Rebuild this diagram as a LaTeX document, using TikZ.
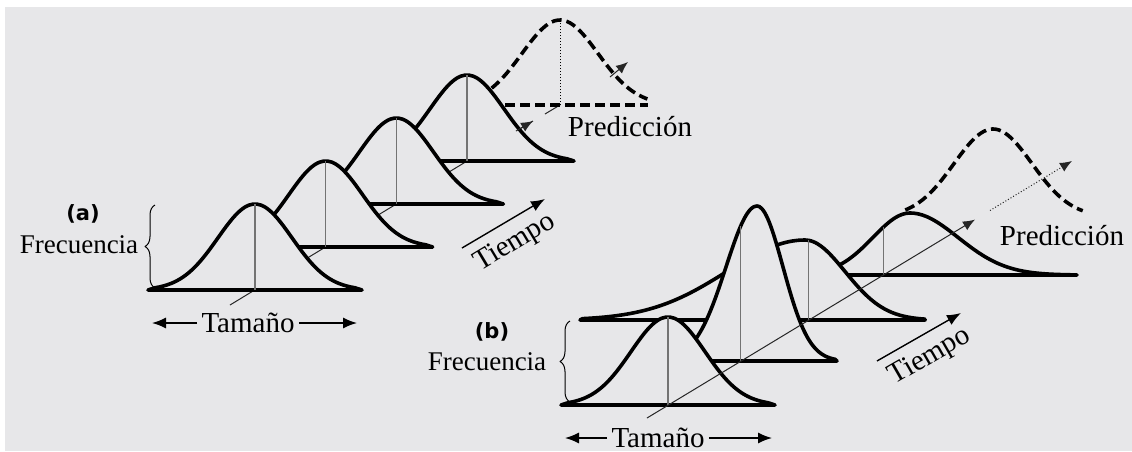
\documentclass[tikz,border=0pt]{standalone}
\usepackage{fontspec}
\setmainfont{Liberation Serif}
\newfontfamily\etiqueta{DejaVu Sans}
\usetikzlibrary{arrows.meta,decorations.pathreplacing}
\definecolor{fondo}{RGB}{231,231,233}

\begin{document}
\begin{tikzpicture}[x=0.5pt,y=-0.5pt,line join=round]
\tikzstyle{campana} = [line width=1.8pt,fill=fondo]
\tikzstyle{media} = [line width=0.6pt,black!55]
\tikzstyle{eje} = [line width=0.5pt,black!85]
\tikzstyle{punta} = [eje,-{Latex[length=6pt,width=5pt]}]
\tikzstyle{flecha} = [line width=0.7pt,-{Latex[length=7pt,width=5.5pt]}]
\tikzstyle{pred} = [line width=1.8pt,dash pattern=on 5pt off 2.5pt]
\tikzstyle{texto} = [font=\fontsize{14.5}{17}\selectfont,inner sep=2pt]
\tikzstyle{frec} = [font=\fontsize{13.5}{16}\selectfont,inner sep=2pt]
\tikzstyle{letra} = [font=\etiqueta\bfseries\fontsize{10.5}{12}\selectfont]
\tikzstyle{llave} = [line width=0.5pt,decorate,decoration={brace,amplitude=5pt}]
%marco gris
\useasboundingbox (0,0) rectangle (1132,451);
\fill[white] (0,0) rectangle (1132,451);
\fill[fondo] (5,7) rectangle (1132,451);
%================ (a) ================
%centros de las bases
\coordinate (a0) at (230,305);
\coordinate (a1) at (255,290);
\coordinate (a2) at (325.7,247);
\coordinate (a3) at (396.4,204);
\coordinate (a4) at (467,161);
\coordinate (as) at (516,131);
\coordinate (at) at (533,121);
\coordinate (aq) at (545,114);
\coordinate (ap) at (560,105);
\coordinate (ad1) at (610,77);
\coordinate (ad2) at (628,62);
%eje del tiempo (queda detrás)
\draw[eje] (a0)--(at);
\draw[eje] (aq)--(ap);
%predicción punteada
\draw[pred] plot[domain=-2.5:2.3,samples=60,smooth] ({560+38*\x},{105-85*exp(-0.5*(\x)*(\x))});
\draw[pred] (490,105)--(648,105);
\draw[densely dotted,line width=0.5pt] (ap)--(560,20);
%campanas, de atrás hacia adelante
\filldraw[campana] (360,161)--plot[domain=-2.7:2.7,samples=50,smooth] ({467+37*\x},{161-86*exp(-0.5*(\x)*(\x))})--(574,161)--cycle;
\draw[media] (a4)--(467,75);
\filldraw[campana] (289.4,204)--plot[domain=-2.7:2.7,samples=50,smooth] ({396.4+37*\x},{204-86*exp(-0.5*(\x)*(\x))})--(503.4,204)--cycle;
\draw[media] (a3)--(396.4,118);
\filldraw[campana] (218.7,247)--plot[domain=-2.7:2.7,samples=50,smooth] ({325.7+37*\x},{247-86*exp(-0.5*(\x)*(\x))})--(432.7,247)--cycle;
\draw[media] (a2)--(325.7,161);
\filldraw[campana] (148,290)--plot[domain=-2.7:2.7,samples=50,smooth] ({255+37*\x},{290-86*exp(-0.5*(\x)*(\x))})--(362,290)--cycle;
\draw[media] (a1)--(255,204);
%flechas cortas
\draw[punta] (as)--(at);
\draw[punta] (ad1)--(ad2);
%textos
\draw(83,214)node[letra](la){(a)};
\draw(79,245)node[frec](fa){Frecuencia};
\draw[llave] (155,288)--(155,205);
\draw(248,323)node[texto](tama){Tamaño};
\coordinate (tai) at (152,323);
\coordinate (tad) at (357,323);
\draw[flecha] (tama)--(tai);
\draw[flecha] (tama)--(tad);
\coordinate (ti1) at (462,248);
\coordinate (ti2) at (545,199);
\draw[flecha] (ti1)--(ti2);
\draw(515,243)node[texto,rotate=31](tia){Tiempo};
\draw(630,127)node[texto](preda){Predicción};
%================ (b) ================
\coordinate (b0) at (647,418);
\coordinate (b1) at (668,405);
\coordinate (b2) at (740.8,361);
\coordinate (b3) at (808.7,320);
\coordinate (b4) at (883.2,275);
\coordinate (bt) at (975,219.6);
\coordinate (bd1) at (990,210.5);
\coordinate (bd2) at (1072,161);
%predicción punteada
\draw[pred] plot[domain=-2.25:2.3,samples=60,smooth] ({993+39*\x},{217-88*exp(-0.5*(\x)*(\x))});
%curvas, de atrás hacia adelante
\filldraw[campana] (795,275)--plot[domain=-3:0,samples=30,smooth] ({910+37*\x},{275-62*exp(-0.5*(\x)*(\x))})--plot[domain=0:3.3,samples=40,smooth] ({910+48*\x},{275-62*exp(-0.5*(\x)*(\x))})--(1077,275)--cycle;
\draw[media] (b4)--(883.2,227.4);
\filldraw[campana] (580,320)--plot[domain=-2.85:0,samples=40,smooth] ({805+78*\x},{320-80*exp(-0.5*(\x)*(\x))})--plot[domain=0:3,samples=30,smooth] ({805+40*\x},{320-80*exp(-0.5*(\x)*(\x))})--(925,320)--cycle;
\draw[media] (b3)--(808.7,240.4);
\filldraw[campana] (650,361)--plot[domain=-3:0,samples=30,smooth] ({757+31*\x},{361-155*exp(-0.5*(\x)*(\x))})--plot[domain=0:3,samples=30,smooth] ({757+26*\x},{361-155*exp(-0.5*(\x)*(\x))})--(837,361)--cycle;
\draw[media] (b2)--(740.8,225.7);
\filldraw[campana] (561,405)--plot[domain=-2.7:2.7,samples=50,smooth] ({668+37*\x},{405-88*exp(-0.5*(\x)*(\x))})--(775,405)--cycle;
\draw[media] (b1)--(668,317);
%eje del tiempo (encima)
\draw[punta] (b0)--(bt);
\draw[punta,densely dotted] (bd1)--(bd2);
%textos
\draw(492,332)node[letra](lb){(b)};
\draw(487,362)node[frec](fb){Frecuencia};
\draw[llave] (570,402)--(570,321);
\draw(658,438)node[texto](tamb){Tamaño};
\coordinate (tbi) at (565,438);
\coordinate (tbd) at (772,438);
\draw[flecha] (tamb)--(tbi);
\draw[flecha] (tamb)--(tbd);
\coordinate (tj1) at (877,361);
\coordinate (tj2) at (961,313);
\draw[flecha] (tj1)--(tj2);
\draw(930,357)node[texto,rotate=30](tib){Tiempo};
\draw(1062,236)node[texto](predb){Predicción};
\end{tikzpicture}
\end{document}
